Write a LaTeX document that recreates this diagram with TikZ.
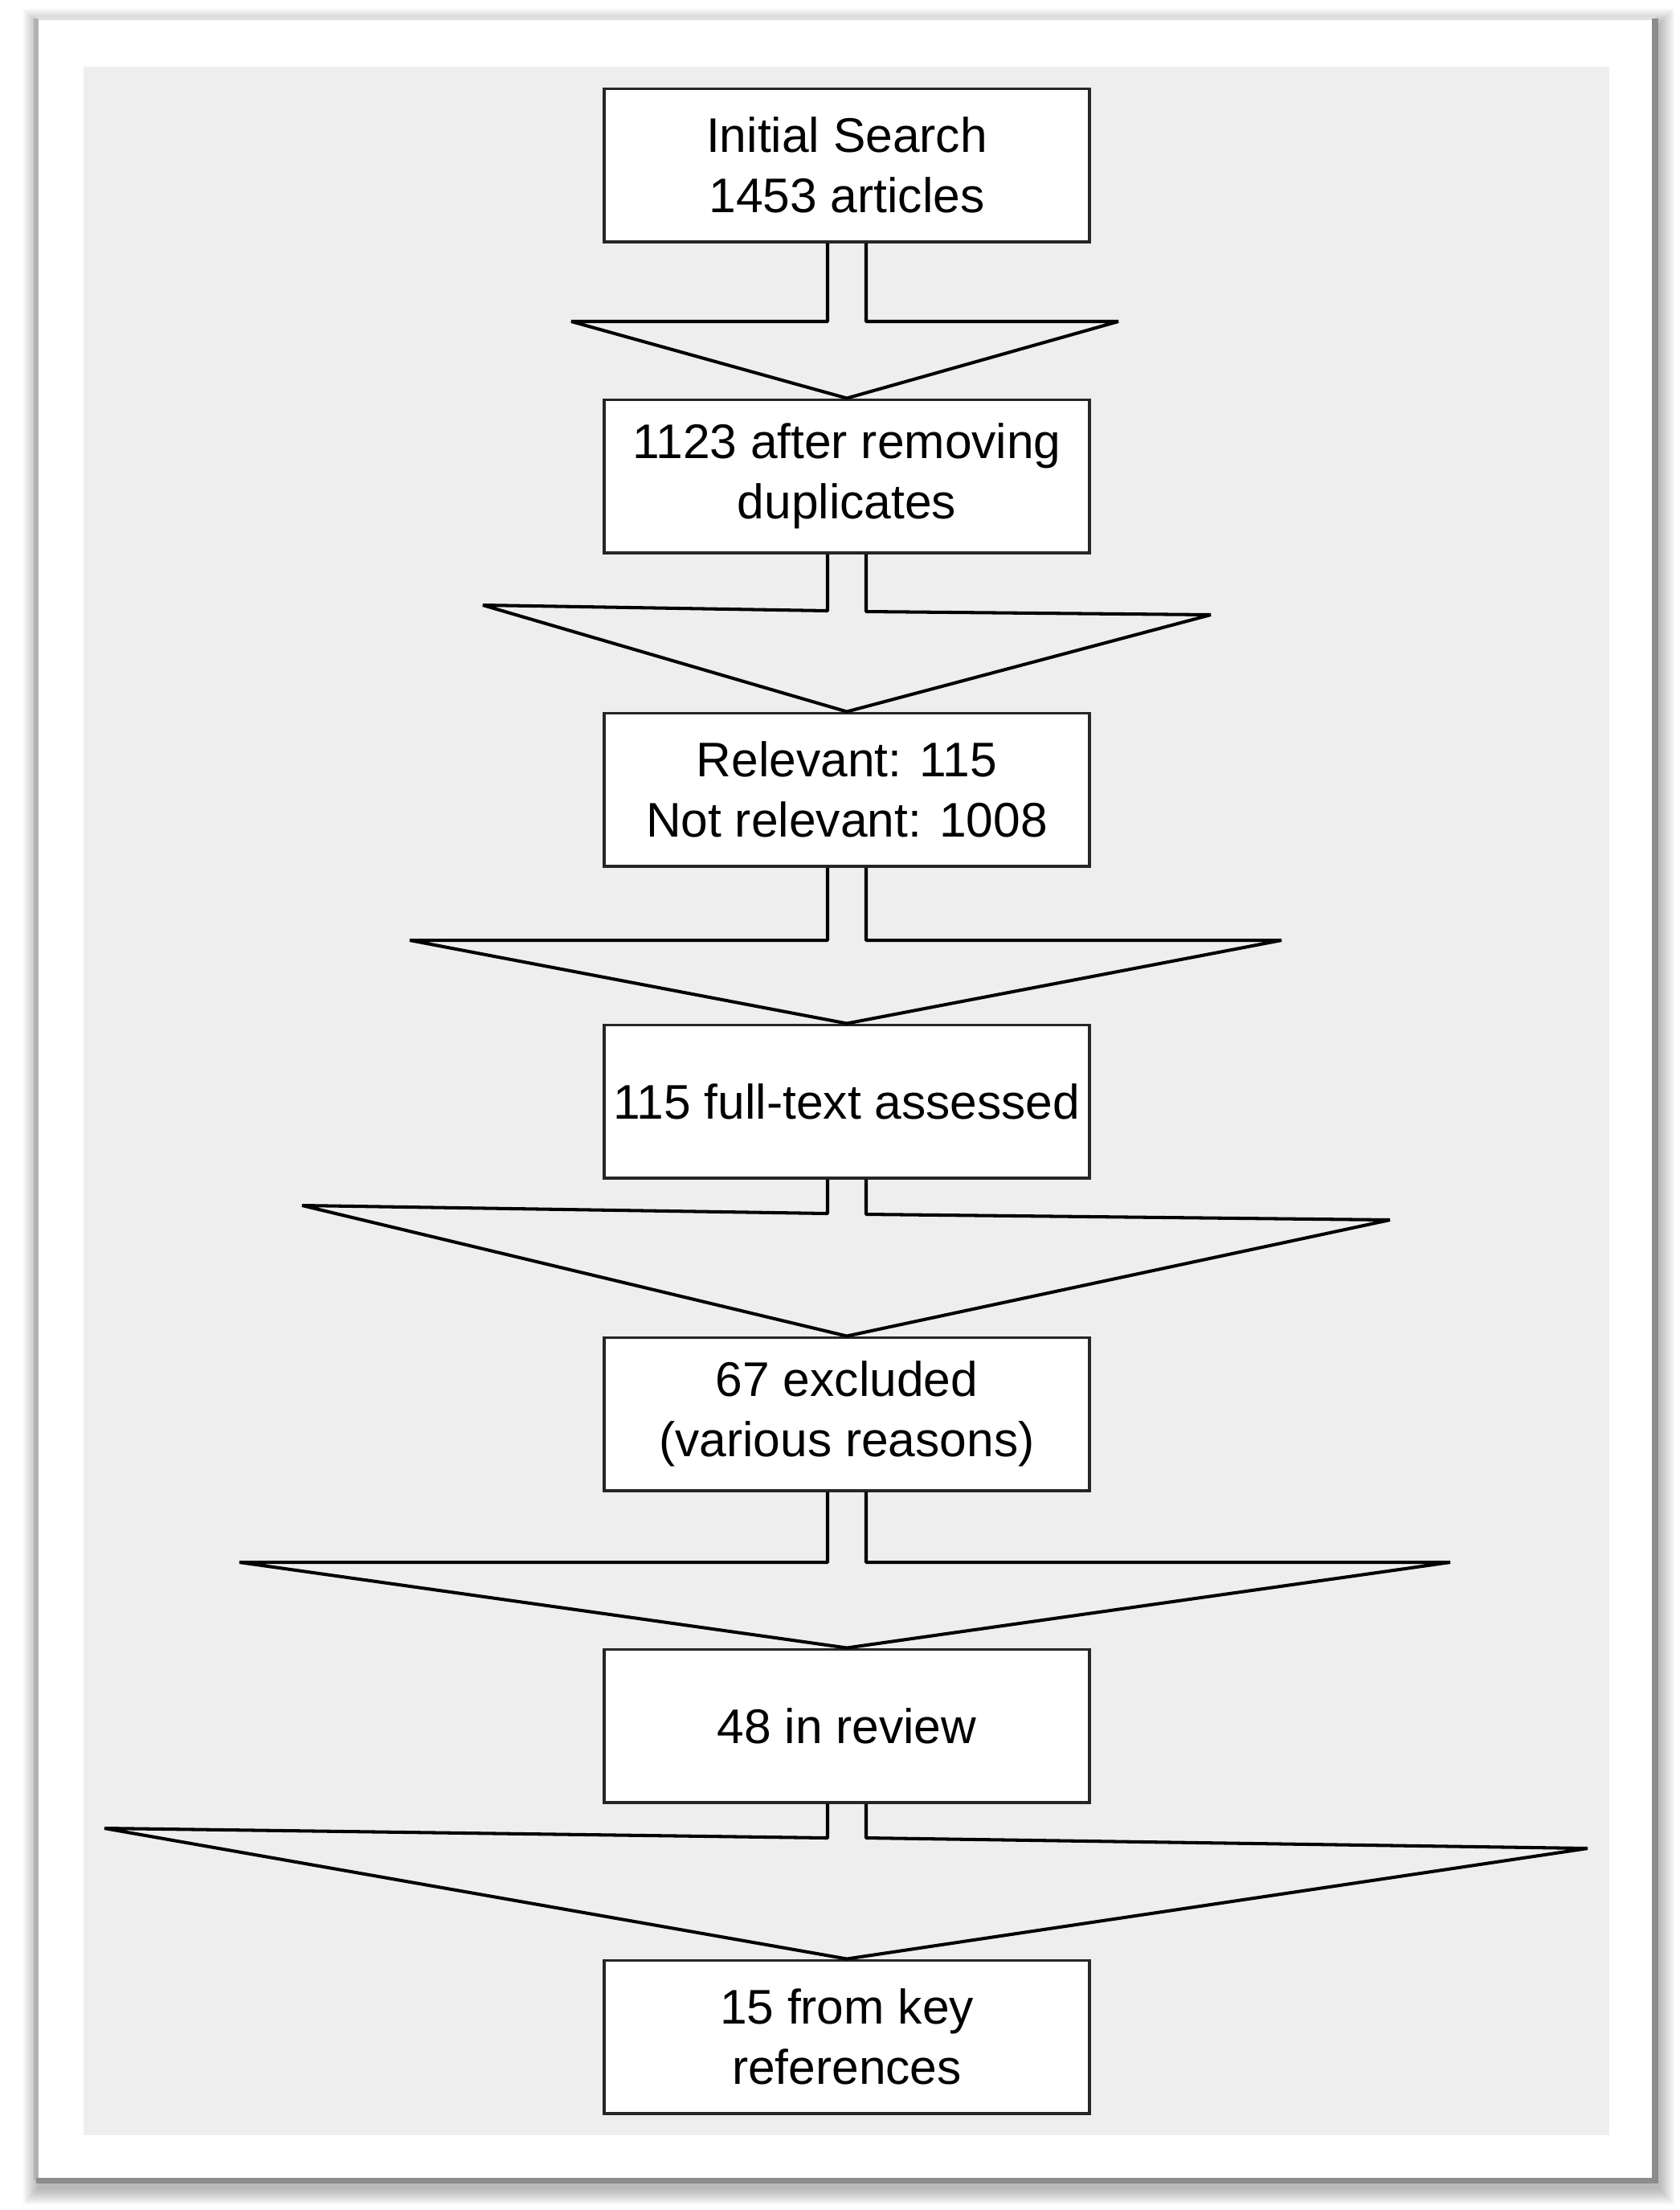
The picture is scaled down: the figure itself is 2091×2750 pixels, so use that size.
\documentclass[tikz,border=0pt]{standalone}
\usepackage{fontspec}
\setmainfont{Liberation Sans}
\usetikzlibrary{calc}
\definecolor{panelgrey}{HTML}{EEEEEE}
\begin{document}
\begin{tikzpicture}[x=0.01cm,y=-0.01cm,
  stage/.style={draw=black!85, line width=1.1pt, fill=white, minimum width=6.04cm, minimum height=1.9cm, align=center, inner sep=0pt, font=\fontsize{17.2}{21.3}\selectfont},
  blockarrow/.style={draw=black, line width=1.15pt, line join=bevel}]
\useasboundingbox (0,0) rectangle (2091,2750);
\foreach \k in {1,...,10}
  \fill [black, opacity=0.03] (49-2*\k,31-2*\k) rectangle (2064+2*\k,2723+2*\k);
\fill [white] (45,23) rectangle (2060,2713);
\draw [black!12, line width=1pt] (45,23) -- (2060,23);
\draw [black!30, line width=1.5pt] (45,23) -- (45,2713);
\draw [black!45, line width=2pt] (45,2713) -- (2060,2713) -- (2060,23);
\fill [panelgrey] (104,83) rectangle (2003,2657);
\node [stage] (search) at (1054,205.5) {Initial Search\\1453 articles};
\node [stage] (dedup) at (1054,592.5) {1123 after removing\\duplicates};
\node [stage] (screen) at (1054,982.5) {Relevant: 115\\Not relevant: 1008};
\node [stage] (fulltext) at (1054,1370.5) {115 full-text assessed};
\node [stage] (excluded) at (1054,1759.5) {67 excluded\\(various reasons)};
\node [stage] (review) at (1054,2147.5) {48 in review};
\node [stage] (keyrefs) at (1054,2534.5) {15 from key\\references};
\draw [blockarrow] ($(search.south)+(-24,0)$) -- (1030,400) -- (711,400) -- (dedup.north) -- (1392,400) -- (1078,400) -- ($(search.south)+(24,0)$);
\draw [blockarrow] ($(dedup.south)+(-24,0)$) -- (1030,760) -- (601,753) -- (screen.north) -- (1507,765) -- (1078,761) -- ($(dedup.south)+(24,0)$);
\draw [blockarrow] ($(screen.south)+(-24,0)$) -- (1030,1170) -- (510,1170) -- (fulltext.north) -- (1595,1170) -- (1078,1170) -- ($(screen.south)+(24,0)$);
\draw [blockarrow] ($(fulltext.south)+(-24,0)$) -- (1030,1510) -- (376,1500) -- (excluded.north) -- (1730,1518) -- (1078,1511) -- ($(fulltext.south)+(24,0)$);
\draw [blockarrow] ($(excluded.south)+(-24,0)$) -- (1030,1944) -- (298,1944) -- (review.north) -- (1805,1944) -- (1078,1944) -- ($(excluded.south)+(24,0)$);
\draw [blockarrow] ($(review.south)+(-24,0)$) -- (1030,2287) -- (130,2275) -- (keyrefs.north) -- (1976,2300) -- (1078,2287) -- ($(review.south)+(24,0)$);
\end{tikzpicture}
\end{document}
